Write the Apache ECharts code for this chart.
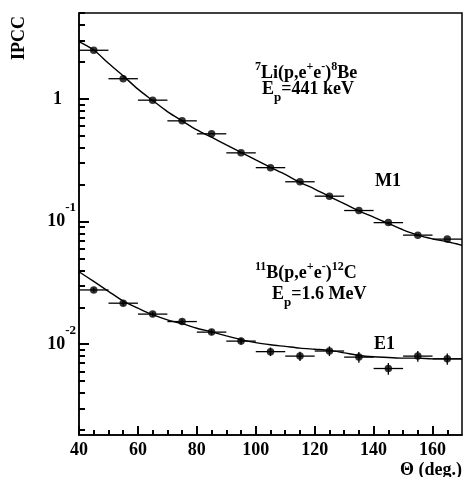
<!DOCTYPE html>
<html>
<head>
<meta charset="utf-8">
<script src="https://cdn.jsdelivr.net/npm/echarts@6/dist/echarts.min.js"></script>
<style>
  html, body { margin: 0; padding: 0; background: #fff; }
  #chart { width: 464px; height: 477px; }
</style>
</head>
<body>
<div id="chart"></div>
<script>
// measured points (theta bin centres, bin half width 5 deg)
const thetaPts = [45, 55, 65, 75, 85, 95, 105, 115, 125, 135, 145, 155, 165];
const thetaHalfWidth = 5;
const m1Values = [2.49, 1.46, 0.976, 0.662, 0.519, 0.363, 0.275, 0.211, 0.161, 0.123, 0.098, 0.0775, 0.0719];
const e1Values = [0.0277, 0.0216, 0.0176, 0.0153, 0.01255, 0.0106, 0.0087, 0.0080, 0.0088, 0.00785, 0.00634, 0.0080, 0.0076];
const e1Errors = [0.0012, 0.0010, 0.0008, 0.0007, 0.0007, 0.0007, 0.0007, 0.0007, 0.0008, 0.0008, 0.0007, 0.0008, 0.0008];

// theory curves
const curveTheta = [40, 45, 50, 55, 60, 65, 70, 75, 80, 85, 90, 95, 100, 105, 110, 115, 120, 125, 130, 135, 140, 145, 150, 155, 160, 165, 170];
const m1Curve = [2.93, 2.5, 1.95, 1.54, 1.2, 0.97, 0.788, 0.662, 0.559, 0.487, 0.422, 0.367, 0.318, 0.277, 0.242, 0.209, 0.184, 0.160, 0.140, 0.122, 0.1086, 0.0964, 0.0856, 0.0775, 0.0723, 0.0684, 0.064];
const e1Curve = [0.039, 0.0325, 0.027, 0.0225, 0.0197, 0.0174, 0.0158, 0.0147, 0.0135, 0.0126, 0.0117, 0.0109, 0.0103, 0.0099, 0.0096, 0.0093, 0.0091, 0.0089, 0.0085, 0.0081, 0.0079, 0.0078, 0.0077, 0.0077, 0.0076, 0.0076, 0.0076];

// axes
const X_MIN = 40, X_MAX = 170;
const Y_MIN = -2.74, Y_MAX = 0.70; // log10 of IPCC
const xMajor = [40, 60, 80, 100, 120, 140, 160];
const xMinor = [45, 50, 55, 65, 70, 75, 85, 90, 95, 105, 110, 115, 125, 130, 135, 145, 150, 155, 165];
const yDecades = [-2, -1, 0];
const yMinorMult = [2, 3, 4, 5, 6, 7, 8, 9];

const FONT = '"Liberation Serif", "DejaVu Serif", serif';
const lg = v => Math.log10(v);

const yMinor = [];
[-3, -2, -1, 0].forEach(d => yMinorMult.forEach(m => {
  const v = d + lg(m);
  if (v > Y_MIN && v < Y_MAX) yMinor.push(v);
}));

const chart = echarts.init(document.getElementById('chart'));

function errBars(params, api) {
  const x = api.value(0), y = api.value(1), dx = api.value(2);
  const lo = api.value(3), hi = api.value(4);
  const a = api.coord([x - dx, y]), b = api.coord([x + dx, y]);
  const children = [{
    type: 'line', shape: { x1: a[0], y1: a[1], x2: b[0], y2: b[1] },
    style: { stroke: '#000', lineWidth: 1.3 }
  }];
  if (hi !== lo) {
    const c = api.coord([x, lo]), d = api.coord([x, hi]);
    children.push({
      type: 'line', shape: { x1: c[0], y1: c[1], x2: d[0], y2: d[1] },
      style: { stroke: '#000', lineWidth: 1.3 }
    });
  }
  return { type: 'group', children };
}

const base = { fontFamily: FONT, fontWeight: 'bold', color: '#000' };
const txt = size => ({ fontFamily: FONT, fontWeight: 'bold', fontSize: size, fill: '#000' });
const tickLine = { color: '#000', width: 2 };

const option = {
  animation: false,
  grid: { left: 79, right: 2, top: 13, bottom: 42, show: true, backgroundColor: 'transparent', borderColor: '#000', borderWidth: 1.5 },
  xAxis: [{
    type: 'value', min: X_MIN, max: X_MAX,
    axisLine: { show: true, onZero: false, lineStyle: { color: '#000', width: 1.5 } },
    axisTick: { show: true, inside: true, length: 9, customValues: xMajor, lineStyle: tickLine },
    axisLabel: Object.assign({ fontSize: 18, margin: 6, customValues: xMajor }, base),
    splitLine: { show: false }
  }, {
    type: 'value', min: X_MIN, max: X_MAX, position: 'bottom',
    axisLine: { show: false, onZero: false },
    axisTick: { show: true, inside: true, length: 5, customValues: xMinor, lineStyle: tickLine },
    axisLabel: { show: false },
    splitLine: { show: false }
  }],
  yAxis: [{
    type: 'value', min: Y_MIN, max: Y_MAX,
    axisLine: { show: true, onZero: false, lineStyle: { color: '#000', width: 1.5 } },
    axisTick: { show: true, inside: true, length: 10, customValues: yDecades, lineStyle: tickLine },
    axisLabel: {
      margin: 3,
      customValues: yDecades,
      formatter: v => (Math.round(v) === 0 ? '{one|1}' : '{b|10}{s|' + Math.round(v) + '}'),
      rich: {
        one: Object.assign({ fontSize: 18, lineHeight: 18, padding: [0, 14, 0, 0] }, base),
        b: Object.assign({ fontSize: 18, lineHeight: 40 }, base),
        s: Object.assign({ fontSize: 13, lineHeight: 13, verticalAlign: 'top' }, base)
      }
    },
    splitLine: { show: false }
  }, {
    type: 'value', min: Y_MIN, max: Y_MAX, position: 'left',
    axisLine: { show: false, onZero: false },
    axisTick: { show: true, inside: true, length: 6, customValues: yMinor, lineStyle: tickLine },
    axisLabel: { show: false },
    splitLine: { show: false }
  }],
  series: [
    {
      type: 'line', smooth: 0.3, showSymbol: false, silent: true,
      lineStyle: { color: '#000', width: 1.4 },
      data: curveTheta.map((t, i) => [t, lg(m1Curve[i])])
    },
    {
      type: 'line', smooth: 0.3, showSymbol: false, silent: true,
      lineStyle: { color: '#000', width: 1.4 },
      data: curveTheta.map((t, i) => [t, lg(e1Curve[i])])
    },
    {
      type: 'custom', renderItem: errBars, clip: true,
      data: thetaPts.map((t, i) => [t, lg(m1Values[i]), thetaHalfWidth, lg(m1Values[i]), lg(m1Values[i])])
    },
    {
      type: 'custom', renderItem: errBars, clip: true,
      data: thetaPts.map((t, i) => [t, lg(e1Values[i]), thetaHalfWidth,
        lg(e1Values[i] - e1Errors[i]), lg(e1Values[i] + e1Errors[i])])
    },
    {
      type: 'scatter', symbol: 'circle', symbolSize: 7.5,
      itemStyle: { color: '#000' },
      data: thetaPts.map((t, i) => [t, lg(m1Values[i])])
    },
    {
      type: 'scatter', symbol: 'circle', symbolSize: 7.5,
      itemStyle: { color: '#000' },
      data: thetaPts.map((t, i) => [t, lg(e1Values[i])])
    }
  ],
  graphic: [
    { type: 'text', x: 19, y: 38, rotation: Math.PI / 2,
      style: Object.assign({ text: 'IPCC', align: 'center', verticalAlign: 'middle' }, txt(18)) },
    { type: 'text', x: 462, y: 470,
      style: Object.assign({ text: 'Θ (deg.)', align: 'right', verticalAlign: 'middle' }, txt(18)) },
    { type: 'text', x: 255, y: 73,
      style: {
        text: '{s|7}{b|Li(p,e}{s|+}{b|e}{s|-}{b|)}{s|8}{b|Be}', align: 'left', verticalAlign: 'middle',
        rich: {
          b: Object.assign({ lineHeight: 24 }, txt(18)),
          s: Object.assign({ lineHeight: 12, verticalAlign: 'top' }, txt(12))
        }
      } },
    { type: 'text', x: 262, y: 89,
      style: {
        text: '{b|E}{u|p}{b|=441 keV}', align: 'left', verticalAlign: 'middle',
        rich: {
          b: Object.assign({ lineHeight: 30 }, txt(18)),
          u: Object.assign({ lineHeight: 13, verticalAlign: 'bottom' }, txt(13))
        }
      } },
    { type: 'text', x: 375, y: 181,
      style: Object.assign({ text: 'M1', align: 'left', verticalAlign: 'middle' }, txt(18)) },
    { type: 'text', x: 255, y: 273,
      style: {
        text: '{s|11}{b|B(p,e}{s|+}{b|e}{s|-}{b|)}{s|12}{b|C}', align: 'left', verticalAlign: 'middle',
        rich: {
          b: Object.assign({ lineHeight: 24 }, txt(18)),
          s: Object.assign({ lineHeight: 12, verticalAlign: 'top' }, txt(12))
        }
      } },
    { type: 'text', x: 272, y: 294,
      style: {
        text: '{b|E}{u|p}{b|=1.6 MeV}', align: 'left', verticalAlign: 'middle',
        rich: {
          b: Object.assign({ lineHeight: 30 }, txt(18)),
          u: Object.assign({ lineHeight: 13, verticalAlign: 'bottom' }, txt(13))
        }
      } },
    { type: 'text', x: 374, y: 344,
      style: Object.assign({ text: 'E1', align: 'left', verticalAlign: 'middle' }, txt(18)) }
  ]
};

chart.setOption(option);
</script>
</body>
</html>
